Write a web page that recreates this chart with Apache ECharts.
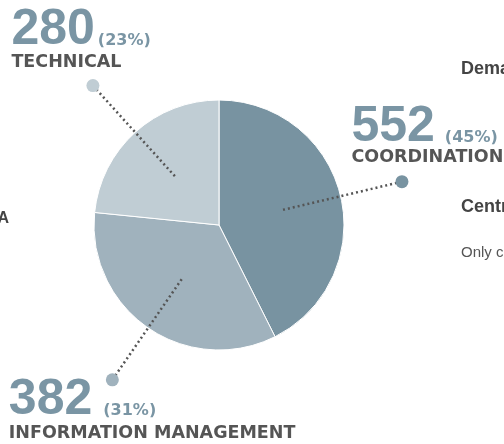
<!DOCTYPE html>
<html>
<head>
    <meta charset="utf-8">
    <title>Requests by area</title>
    <script src="https://cdn.jsdelivr.net/npm/echarts@6/dist/echarts.min.js"></script>
    <style type="text/css">
        html, body {
            margin: 0;
            padding: 0;
            background: #fff;
        }

        #main {
            width: 504px;
            height: 444px;
        }
    </style>
</head>
<body>
<div id="main"></div>
<script>
    // data
    var areaNames = ['COORDINATION', 'INFORMATION MANAGEMENT', 'TECHNICAL'];
    var areaCounts = [552, 382, 280];
    var sliceShares = [42.6, 34.0, 23.4]; // share of the circle as drawn (%)
    var sliceColors = ['#7893a1', '#a0b2bd', '#c0cdd4'];

    // label placement, relative to each end dot
    var labelOffsets = [[-44, -73], [-97, 2], [-75, -74]];
    var pctGaps = [10, 11, 3];
    var nameLineHeights = [11, 17, 15];

    var totalCount = areaCounts.reduce(function (a, b) { return a + b; }, 0);
    var totalShare = sliceShares.reduce(function (a, b) { return a + b; }, 0);
    var acc = 0;
    var midShares = sliceShares.map(function (s) {
        var m = acc + s / 2;
        acc += s;
        return m;
    });

    var numColor = '#7a95a4';

    function labelFor(i) {
        var pct = Math.round(areaCounts[i] / totalCount * 100);
        return {
            show: true,
            position: labelOffsets[i],
            formatter: '{num|' + areaCounts[i] + '}{pct|(' + pct + '%)}\n{name|' + areaNames[i] + '}',
            rich: {
                num: {
                    fontFamily: 'Liberation Sans',
                    fontWeight: 'bold',
                    fontSize: 50,
                    lineHeight: 50,
                    color: numColor
                },
                pct: {
                    fontFamily: 'DejaVu Sans',
                    fontWeight: 'bold',
                    fontSize: 16,
                    lineHeight: 20,
                    verticalAlign: 'bottom',
                    padding: [0, 0, 6, pctGaps[i]],
                    color: numColor
                },
                name: {
                    fontFamily: 'DejaVu Sans',
                    fontWeight: 'bold',
                    fontSize: 17.5,
                    lineHeight: nameLineHeights[i],
                    color: '#555'
                }
            }
        };
    }

    var myChart = echarts.init(document.getElementById('main'));

    var leaderLines = areaNames.map(function (n, i) {
        return {
            type: 'line',
            coordinateSystem: 'polar',
            silent: true,
            showSymbol: false,
            z: 3,
            data: [[0.35, midShares[i]], [1, midShares[i]]],
            lineStyle: {color: '#555', width: 2.5, type: [2, 3]}
        };
    });

    var option = {
        animation: false,
        polar: {
            center: [219, 225],
            radius: 188
        },
        angleAxis: {
            type: 'value',
            min: 0,
            max: totalShare,
            startAngle: 90,
            clockwise: true,
            show: false,
            splitLine: {show: false}
        },
        radiusAxis: {
            type: 'value',
            min: 0,
            max: 1,
            show: false,
            splitLine: {show: false}
        },
        graphic: [
            {type: 'text', left: 461, top: 60, style: {text: 'Demand', font: 'bold 18px "Liberation Sans", Arial', fill: '#444'}},
            {type: 'text', left: 461, top: 198, style: {text: 'Central', font: 'bold 18px "Liberation Sans", Arial', fill: '#444'}},
            {type: 'text', left: 461, top: 245, style: {text: 'Only coordination', font: '15px "Liberation Sans", Arial', fill: '#555'}},
            {type: 'text', right: 495, top: 211, style: {text: 'DATA', font: 'bold 16px "Liberation Sans", Arial', fill: '#444'}}
        ],
        series: [{
            type: 'pie',
            center: [219, 225],
            radius: 125,
            startAngle: 90,
            clockwise: true,
            silent: true,
            label: {show: false},
            labelLine: {show: false},
            itemStyle: {borderColor: '#fff', borderWidth: 1},
            data: areaNames.map(function (n, i) {
                return {name: n, value: sliceShares[i], itemStyle: {color: sliceColors[i]}};
            })
        }].concat(leaderLines).concat([{
            type: 'scatter',
            coordinateSystem: 'polar',
            silent: true,
            symbolSize: 13,
            z: 4,
            data: areaNames.map(function (n, i) {
                return {
                    name: n,
                    value: [1, midShares[i]],
                    itemStyle: {color: sliceColors[i], opacity: 1},
                    label: labelFor(i)
                };
            })
        }])
    };
    myChart.setOption(option);
</script>
</body>
</html>
